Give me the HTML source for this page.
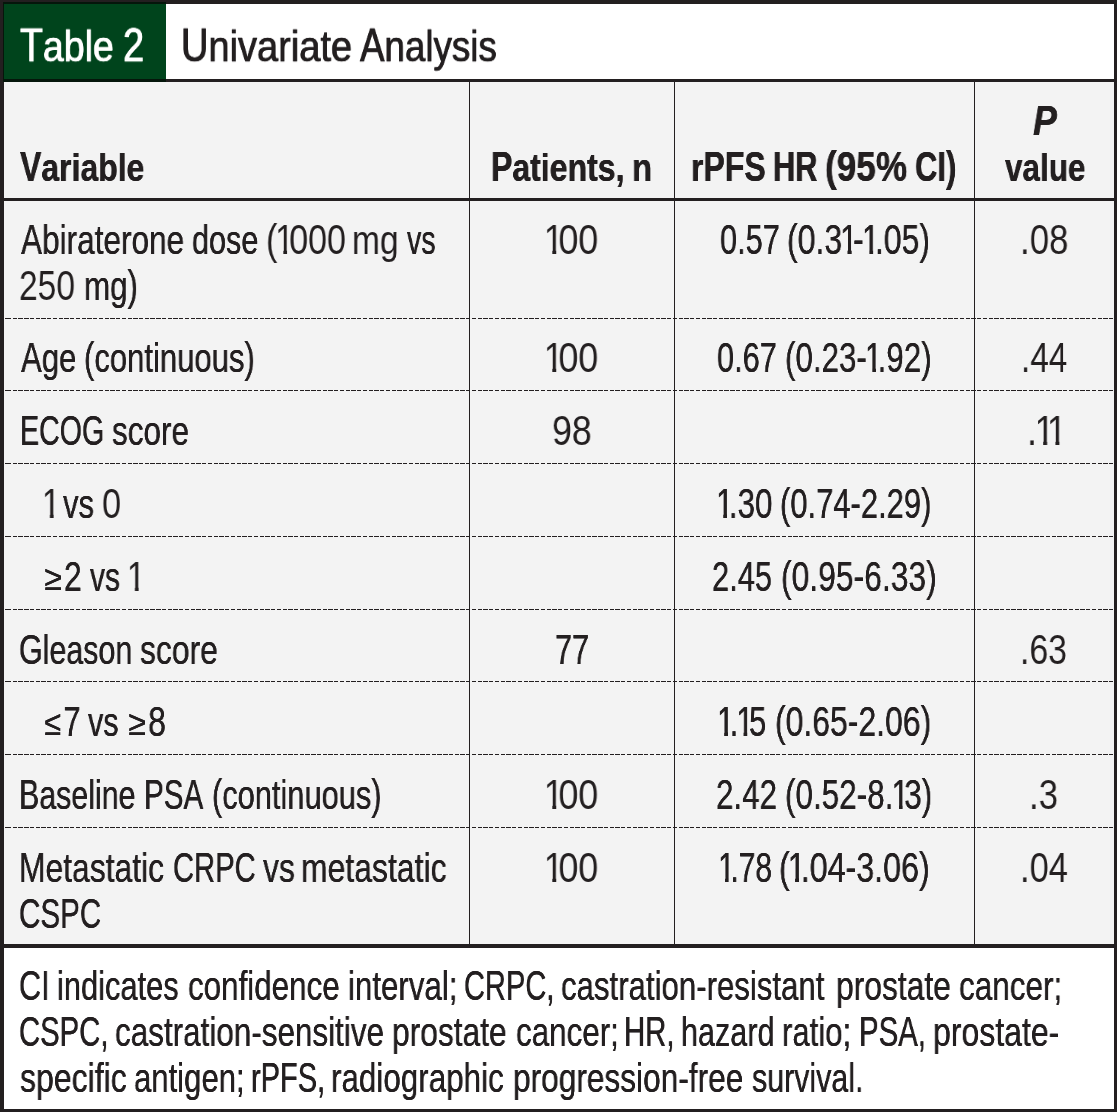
<!DOCTYPE html>
<html lang="en"><head><meta charset="utf-8"><title>Table 2 Univariate Analysis</title>
<style>
html,body{margin:0;padding:0;background:#fff;}
body{width:1117px;height:1112px;position:relative;overflow:hidden;font-family:"Liberation Sans",sans-serif;}
.frame{position:absolute;left:0;top:0;width:1110px;height:1105px;border-style:solid;border-color:#231f20;border-width:4px 3px 3px 4px;}
.green{position:absolute;left:4px;top:4px;width:162px;height:75px;background:#00441c;}
.gedge{position:absolute;left:3px;top:2px;width:163px;height:80px;background:#05160b;}
.hl{position:absolute;left:4px;width:1110px;background:#231f20;}
.gray{position:absolute;left:4px;top:82px;width:1110px;height:862px;background:#f3f3f3;}
.vl{position:absolute;top:82px;width:1px;height:862px;background:#231f20;}
.dash{position:absolute;left:4px;width:1110px;height:1px;background:repeating-linear-gradient(90deg,#231f20 0,#231f20 4.3px,transparent 4.3px,transparent 5.74px);background-position:3px 0;}
.ln{position:static;}
.t{position:absolute;white-space:pre;line-height:1;transform-origin:0 0;font-weight:400;will-change:transform;font-size:42px;color:#231f20;text-shadow:0.3px 0 0 #231f20,-0.3px 0 0 #231f20;}
.lc{display:inline-block;transform:scaleY(0.96);transform-origin:0 35px;}.b .lc{transform:scaleY(0.925);}.tt .lc{transform:scaleY(0.93);transform-origin:0 42.3px;}.ge{display:inline-block;transform:translateY(-0.9px) scaleY(0.83);transform-origin:0 35px;margin:0 0.07em 0 -0.02em;}.o{display:inline-block;margin:0 -0.148em 0 -0.066em;clip-path:polygon(0 0,100% 0,100% 30.8px,14.75px 30.8px,14.75px 100%,10.1px 100%,10.1px 30.8px,0 30.8px);}
.t.b{font-weight:700;text-shadow:0.25px 0 0 #231f20,-0.25px 0 0 #231f20;}
.t.i{font-style:italic;}
.t.tt{font-size:50px;-webkit-text-stroke:0.6px;text-shadow:0.45px 0 0 #231f20,-0.45px 0 0 #231f20;}
.t.wh{color:#fff;text-shadow:0.45px 0 0 #fff,-0.45px 0 0 #fff;}
</style></head><body>
<div class="gray"></div>
<div class="hl" style="top:79px;height:3px"></div>
<div class="hl" style="top:198px;height:3px"></div>
<div class="hl" style="top:944px;height:4px"></div>
<div class="vl" style="left:469px"></div>
<div class="vl" style="left:674px"></div>
<div class="vl" style="left:974px"></div>
<div class="dash" style="top:318px"></div><div class="dash" style="top:390px"></div><div class="dash" style="top:463px"></div><div class="dash" style="top:536px"></div><div class="dash" style="top:609px"></div><div class="dash" style="top:681px"></div><div class="dash" style="top:754px"></div><div class="dash" style="top:827px"></div>
<div class="frame"></div>
<div class="gedge"></div>
<div class="green"></div>
<div class="ln"><span class="t tt wh" style="left:20.32px;top:22px;transform:scale(0.7501,0.934);">T<span class="lc">able</span></span> <span class="t tt wh" style="left:123.38px;top:22px;transform:scale(0.7580,0.934);">2</span></div>
<div class="ln"><span class="t tt" style="left:180.89px;top:22px;transform:scale(0.7600,0.934);">U<span class="lc">nivariate</span></span> <span class="t tt" style="left:360.46px;top:22px;transform:scale(0.7346,0.934);">A<span class="lc">nalysis</span></span></div>
<div class="ln"><span class="t b" style="left:19.83px;top:146px;transform:scaleX(0.7611);">V<span class="lc">ariable</span></span></div>
<div class="ln"><span class="t b" style="left:491.35px;top:146px;transform:scaleX(0.7622);">P<span class="lc">atients,</span></span> <span class="t b" style="left:632.20px;top:146px;transform:scaleX(0.7873);"><span class="lc">n</span></span></div>
<div class="ln"><span class="t b" style="left:691.06px;top:146px;transform:scaleX(0.7624);"><span class="lc">r</span>PFS</span> <span class="t b" style="left:773.32px;top:146px;transform:scaleX(0.7340);">HR</span> <span class="t b" style="left:825.01px;top:146px;transform:scaleX(0.8375);">(95%</span> <span class="t b" style="left:915.30px;top:146px;transform:scaleX(0.7377);">CI)</span></div>
<div class="ln"><span class="t b i" style="left:1032.91px;top:100px;transform:scaleX(0.8496);">P</span></div>
<div class="ln"><span class="t b" style="left:1004.62px;top:146px;transform:scaleX(0.7491);"><span class="lc">value</span></span></div>
<div class="ln"><span class="t" style="left:20.73px;top:219px;transform:scaleX(0.7515);text-shadow:0.08px 0 0 #231f20,-0.08px 0 0 #231f20;">A<span class="lc">biraterone</span></span> <span class="t" style="left:191.90px;top:219px;transform:scaleX(0.7287);text-shadow:0.14px 0 0 #231f20,-0.14px 0 0 #231f20;"><span class="lc">dose</span></span> <span class="t" style="left:266.15px;top:219px;transform:scaleX(0.8125);text-shadow:none;">(<span class="o">1</span>000</span> <span class="t" style="left:352.05px;top:219px;transform:scaleX(0.7975);text-shadow:none;"><span class="lc">mg</span></span> <span class="t" style="left:406.85px;top:219px;transform:scaleX(0.6818);text-shadow:0.27px 0 0 #231f20,-0.27px 0 0 #231f20;"><span class="lc">vs</span></span></div>
<div class="ln"><span class="t" style="left:19.10px;top:265px;transform:scaleX(0.7993);text-shadow:none;">250</span> <span class="t" style="left:83.68px;top:265px;transform:scaleX(0.7453);text-shadow:0.1px 0 0 #231f20,-0.1px 0 0 #231f20;"><span class="lc">mg</span>)</span></div>
<div class="ln"><span class="t" style="left:20.76px;top:337px;transform:scaleX(0.7412);text-shadow:0.11px 0 0 #231f20,-0.11px 0 0 #231f20;">A<span class="lc">ge</span></span> <span class="t" style="left:83.53px;top:337px;transform:scaleX(0.7389);text-shadow:0.11px 0 0 #231f20,-0.11px 0 0 #231f20;">(<span class="lc">continuous</span>)</span></div>
<div class="ln"><span class="t" style="left:19.83px;top:410px;transform:scaleX(0.6811);text-shadow:0.27px 0 0 #231f20,-0.27px 0 0 #231f20;">ECOG</span> <span class="t" style="left:111.66px;top:410px;transform:scaleX(0.7497);text-shadow:0.09px 0 0 #231f20,-0.09px 0 0 #231f20;"><span class="lc">score</span></span></div>
<div class="ln"><span class="t" style="left:43.90px;top:483px;transform:scaleX(0.8000);text-shadow:none;"><span class="o">1</span></span> <span class="t" style="left:63.03px;top:483px;transform:scaleX(0.7389);text-shadow:0.12px 0 0 #231f20,-0.12px 0 0 #231f20;"><span class="lc">vs</span></span> <span class="t" style="left:102.15px;top:483px;transform:scaleX(0.8189);text-shadow:none;">0</span></div>
<div class="ln"><span class="t" style="left:45.11px;top:556px;transform:scaleX(0.7556);text-shadow:0.08px 0 0 #231f20,-0.08px 0 0 #231f20;"><span class="ge">≥</span>2</span> <span class="t" style="left:89.98px;top:556px;transform:scaleX(0.7145);text-shadow:0.18px 0 0 #231f20,-0.18px 0 0 #231f20;"><span class="lc">vs</span></span> <span class="t" style="left:129.40px;top:556px;transform:scaleX(0.8000);text-shadow:none;"><span class="o">1</span></span></div>
<div class="ln"><span class="t" style="left:19.45px;top:629px;transform:scaleX(0.7242);text-shadow:0.15px 0 0 #231f20,-0.15px 0 0 #231f20;">G<span class="lc">leason</span></span> <span class="t" style="left:139.83px;top:629px;transform:scaleX(0.7582);text-shadow:0.06px 0 0 #231f20,-0.06px 0 0 #231f20;"><span class="lc">score</span></span></div>
<div class="ln"><span class="t" style="left:44.90px;top:701px;transform:scaleX(0.7313);text-shadow:0.14px 0 0 #231f20,-0.14px 0 0 #231f20;"><span class="ge">≤</span>7</span> <span class="t" style="left:88.16px;top:701px;transform:scaleX(0.7279);text-shadow:0.15px 0 0 #231f20,-0.15px 0 0 #231f20;"><span class="lc">vs</span></span> <span class="t" style="left:129.20px;top:701px;transform:scaleX(0.7609);text-shadow:0.07px 0 0 #231f20,-0.07px 0 0 #231f20;"><span class="ge">≥</span>8</span></div>
<div class="ln"><span class="t" style="left:19.41px;top:774px;transform:scaleX(0.7230);text-shadow:0.15px 0 0 #231f20,-0.15px 0 0 #231f20;">B<span class="lc">aseline</span></span> <span class="t" style="left:143.80px;top:774px;transform:scaleX(0.7055);text-shadow:0.2px 0 0 #231f20,-0.2px 0 0 #231f20;">PSA</span> <span class="t" style="left:211.75px;top:774px;transform:scaleX(0.7335);text-shadow:0.12px 0 0 #231f20,-0.12px 0 0 #231f20;">(<span class="lc">continuous</span>)</span></div>
<div class="ln"><span class="t" style="left:19.22px;top:847px;transform:scaleX(0.7578);text-shadow:0.06px 0 0 #231f20,-0.06px 0 0 #231f20;">M<span class="lc">etastatic</span></span> <span class="t" style="left:172.85px;top:847px;transform:scaleX(0.6945);text-shadow:0.23px 0 0 #231f20,-0.23px 0 0 #231f20;">CRPC</span> <span class="t" style="left:263.29px;top:847px;transform:scaleX(0.7606);text-shadow:0.07px 0 0 #231f20,-0.07px 0 0 #231f20;"><span class="lc">vs</span></span> <span class="t" style="left:301.30px;top:847px;transform:scaleX(0.7605);text-shadow:0.06px 0 0 #231f20,-0.06px 0 0 #231f20;"><span class="lc">metastatic</span></span></div>
<div class="ln"><span class="t" style="left:19.40px;top:893px;transform:scaleX(0.7047);text-shadow:0.2px 0 0 #231f20,-0.2px 0 0 #231f20;">CSPC</span></div>
<div class="ln"><span class="t" style="left:546.03px;top:219px;transform:scaleX(0.8550);text-shadow:none;"><span class="o">1</span>00</span></div>
<div class="ln"><span class="t" style="left:546.03px;top:337px;transform:scaleX(0.8550);text-shadow:none;"><span class="o">1</span>00</span></div>
<div class="ln"><span class="t" style="left:552.09px;top:410px;transform:scaleX(0.8523);text-shadow:none;">98</span></div>
<div class="ln"><span class="t" style="left:554.96px;top:629px;transform:scaleX(0.7302);text-shadow:0.14px 0 0 #231f20,-0.14px 0 0 #231f20;">77</span></div>
<div class="ln"><span class="t" style="left:546.03px;top:774px;transform:scaleX(0.8550);text-shadow:none;"><span class="o">1</span>00</span></div>
<div class="ln"><span class="t" style="left:546.03px;top:847px;transform:scaleX(0.8550);text-shadow:none;"><span class="o">1</span>00</span></div>
<div class="ln"><span class="t" style="left:719.79px;top:219px;transform:scaleX(0.7314);text-shadow:0.13px 0 0 #231f20,-0.13px 0 0 #231f20;">0.57</span> <span class="t" style="left:787.12px;top:219px;transform:scaleX(0.7626);text-shadow:0.05px 0 0 #231f20,-0.05px 0 0 #231f20;">(0.3<span class="o">1</span>-<span class="o">1</span>.05)</span></div>
<div class="ln"><span class="t" style="left:717.39px;top:337px;transform:scaleX(0.7314);text-shadow:0.13px 0 0 #231f20,-0.13px 0 0 #231f20;">0.67</span> <span class="t" style="left:785.29px;top:337px;transform:scaleX(0.7463);text-shadow:0.09px 0 0 #231f20,-0.09px 0 0 #231f20;">(0.23-<span class="o">1</span>.92)</span></div>
<div class="ln"><span class="t" style="left:717.58px;top:483px;transform:scaleX(0.7493);text-shadow:0.09px 0 0 #231f20,-0.09px 0 0 #231f20;"><span class="o">1</span>.30</span> <span class="t" style="left:780.44px;top:483px;transform:scaleX(0.7370);text-shadow:0.12px 0 0 #231f20,-0.12px 0 0 #231f20;">(0.74-2.29)</span></div>
<div class="ln"><span class="t" style="left:712.23px;top:556px;transform:scaleX(0.7335);text-shadow:0.13px 0 0 #231f20,-0.13px 0 0 #231f20;">2.45</span> <span class="t" style="left:781.14px;top:556px;transform:scaleX(0.7579);text-shadow:0.06px 0 0 #231f20,-0.06px 0 0 #231f20;">(0.95-6.33)</span></div>
<div class="ln"><span class="t" style="left:719.31px;top:701px;transform:scaleX(0.7422);text-shadow:0.11px 0 0 #231f20,-0.11px 0 0 #231f20;"><span class="o">1</span>.<span class="o">1</span>5</span> <span class="t" style="left:774.54px;top:701px;transform:scaleX(0.7604);text-shadow:0.06px 0 0 #231f20,-0.06px 0 0 #231f20;">(0.65-2.06)</span></div>
<div class="ln"><span class="t" style="left:716.29px;top:774px;transform:scaleX(0.7455);text-shadow:0.1px 0 0 #231f20,-0.1px 0 0 #231f20;">2.42</span> <span class="t" style="left:784.78px;top:774px;transform:scaleX(0.7490);text-shadow:0.08px 0 0 #231f20,-0.08px 0 0 #231f20;">(0.52-8.<span class="o">1</span>3)</span></div>
<div class="ln"><span class="t" style="left:720.09px;top:847px;transform:scaleX(0.7155);text-shadow:0.18px 0 0 #231f20,-0.18px 0 0 #231f20;"><span class="o">1</span>.78</span> <span class="t" style="left:779.40px;top:847px;transform:scaleX(0.7671);text-shadow:0.04px 0 0 #231f20,-0.04px 0 0 #231f20;">(<span class="o">1</span>.04-3.06)</span></div>
<div class="ln"><span class="t" style="left:1019.67px;top:219px;transform:scaleX(0.8301);text-shadow:none;">.08</span></div>
<div class="ln"><span class="t" style="left:1020.51px;top:337px;transform:scaleX(0.7937);text-shadow:none;">.44</span></div>
<div class="ln"><span class="t" style="left:1026.89px;top:410px;transform:scaleX(0.8517);text-shadow:none;">.<span class="o">1</span><span class="o">1</span></span></div>
<div class="ln"><span class="t" style="left:1020.47px;top:629px;transform:scaleX(0.8038);text-shadow:none;">.63</span></div>
<div class="ln"><span class="t" style="left:1029.38px;top:774px;transform:scaleX(0.8270);text-shadow:none;">.3</span></div>
<div class="ln"><span class="t" style="left:1019.71px;top:847px;transform:scaleX(0.8200);text-shadow:none;">.04</span></div>
<div class="ln"><span class="t" style="left:19.32px;top:965px;transform:scaleX(0.7281);text-shadow:0.15px 0 0 #231f20,-0.15px 0 0 #231f20;">CI</span> <span class="t" style="left:56.92px;top:965px;transform:scaleX(0.7338);text-shadow:0.12px 0 0 #231f20,-0.12px 0 0 #231f20;"><span class="lc">indicates</span></span> <span class="t" style="left:187.91px;top:965px;transform:scaleX(0.7467);text-shadow:0.09px 0 0 #231f20,-0.09px 0 0 #231f20;"><span class="lc">confidence</span></span> <span class="t" style="left:348.18px;top:965px;transform:scaleX(0.7445);text-shadow:0.1px 0 0 #231f20,-0.1px 0 0 #231f20;"><span class="lc">interval;</span></span> <span class="t" style="left:463.66px;top:965px;transform:scaleX(0.6911);text-shadow:0.24px 0 0 #231f20,-0.24px 0 0 #231f20;">CRPC,</span> <span class="t" style="left:561.22px;top:965px;transform:scaleX(0.7423);text-shadow:0.1px 0 0 #231f20,-0.1px 0 0 #231f20;"><span class="lc">castration-resistant</span></span> <span class="t" style="left:835.58px;top:965px;transform:scaleX(0.7568);text-shadow:0.07px 0 0 #231f20,-0.07px 0 0 #231f20;"><span class="lc">prostate</span></span> <span class="t" style="left:959.10px;top:965px;transform:scaleX(0.7496);text-shadow:0.08px 0 0 #231f20,-0.08px 0 0 #231f20;"><span class="lc">cancer;</span></span></div>
<div class="ln"><span class="t" style="left:19.44px;top:1011px;transform:scaleX(0.6973);text-shadow:0.23px 0 0 #231f20,-0.23px 0 0 #231f20;">CSPC,</span> <span class="t" style="left:115.20px;top:1011px;transform:scaleX(0.7485);text-shadow:0.08px 0 0 #231f20,-0.08px 0 0 #231f20;"><span class="lc">castration-sensitive</span></span> <span class="t" style="left:391.59px;top:1011px;transform:scaleX(0.7555);text-shadow:0.07px 0 0 #231f20,-0.07px 0 0 #231f20;"><span class="lc">prostate</span></span> <span class="t" style="left:515.61px;top:1011px;transform:scaleX(0.7472);text-shadow:0.09px 0 0 #231f20,-0.09px 0 0 #231f20;"><span class="lc">cancer;</span></span> <span class="t" style="left:624.24px;top:1011px;transform:scaleX(0.6981);text-shadow:0.22px 0 0 #231f20,-0.22px 0 0 #231f20;">HR,</span> <span class="t" style="left:680.88px;top:1011px;transform:scaleX(0.7278);text-shadow:0.14px 0 0 #231f20,-0.14px 0 0 #231f20;"><span class="lc">hazard</span></span> <span class="t" style="left:782.40px;top:1011px;transform:scaleX(0.7410);text-shadow:0.11px 0 0 #231f20,-0.11px 0 0 #231f20;"><span class="lc">ratio;</span></span> <span class="t" style="left:859.13px;top:1011px;transform:scaleX(0.7001);text-shadow:0.22px 0 0 #231f20,-0.22px 0 0 #231f20;">PSA,</span> <span class="t" style="left:932.75px;top:1011px;transform:scaleX(0.7623);text-shadow:0.05px 0 0 #231f20,-0.05px 0 0 #231f20;"><span class="lc">prostate-</span></span></div>
<div class="ln"><span class="t" style="left:19.61px;top:1057px;transform:scaleX(0.7625);text-shadow:0.05px 0 0 #231f20,-0.05px 0 0 #231f20;"><span class="lc">specific</span></span> <span class="t" style="left:134.02px;top:1057px;transform:scaleX(0.7403);text-shadow:0.11px 0 0 #231f20,-0.11px 0 0 #231f20;"><span class="lc">antigen;</span></span> <span class="t" style="left:250.94px;top:1057px;transform:scaleX(0.6899);text-shadow:0.25px 0 0 #231f20,-0.25px 0 0 #231f20;"><span class="lc">r</span>PFS,</span> <span class="t" style="left:331.37px;top:1057px;transform:scaleX(0.7473);text-shadow:0.09px 0 0 #231f20,-0.09px 0 0 #231f20;"><span class="lc">radiographic</span></span> <span class="t" style="left:512.99px;top:1057px;transform:scaleX(0.7530);text-shadow:0.07px 0 0 #231f20,-0.07px 0 0 #231f20;"><span class="lc">progression-free</span></span> <span class="t" style="left:751.65px;top:1057px;transform:scaleX(0.7236);text-shadow:0.15px 0 0 #231f20,-0.15px 0 0 #231f20;"><span class="lc">survival.</span></span></div>
</body></html>
